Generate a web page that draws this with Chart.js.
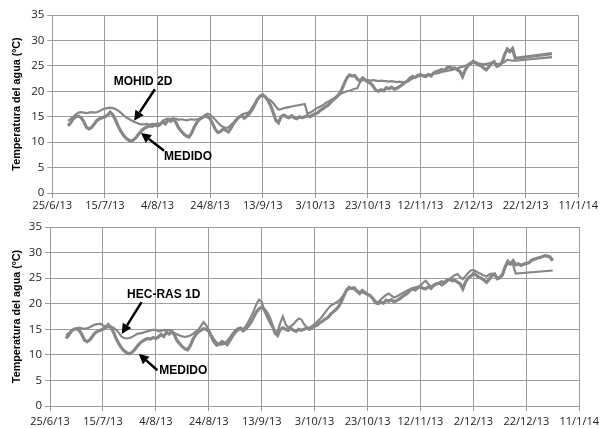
<!DOCTYPE html>
<html>
<head>
<meta charset="utf-8">
<script src="https://cdn.jsdelivr.net/npm/chart.js@4.4.1/dist/chart.umd.min.js"></script>
<style>
  html, body { margin: 0; padding: 0; background: #ffffff; }
  body { width: 603px; height: 428px; position: relative; overflow: hidden; }
  canvas { position: absolute; left: 0; }
  #sup { top: 0; }
  #inf { top: 213px; }
</style>
</head>
<body>
<canvas id="sup" width="603" height="213"></canvas>
<canvas id="inf" width="603" height="215"></canvas>
<script>
// ---- Eje X: días desde 25/6/13, etiquetas cada 20 días ----
const etiquetasX = ['25/6/13','15/7/13','4/8/13','24/8/13','13/9/13','3/10/13','23/10/13','12/11/13','2/12/13','22/12/13','11/1/14'];
const diaInicio = 6;   // primer dato: 1/7/13

// ---- Temperatura medida (ºC), un valor por día desde diaInicio ----
const medido = [
  13.2, 13.8, 14.6, 15.0, 15.1, 14.8, 14.0, 12.9, 12.6, 12.9,
  13.6, 14.3, 14.6, 14.8, 15.0, 15.3, 15.9, 15.4, 14.4, 13.2,
  12.2, 11.4, 10.8, 10.4, 10.2, 10.5, 11.0, 11.7, 12.3, 12.7,
  13.0, 13.2, 13.1, 13.4, 13.2, 13.5, 14.0, 13.6, 14.4, 14.1,
  14.6, 13.9, 12.8, 12.2, 11.6, 11.2, 11.0, 11.8, 13.0, 13.9,
  14.5, 14.8, 15.1, 15.0, 14.6, 13.6, 12.5, 11.9, 12.1, 12.6,
  12.3, 12.0, 12.8, 13.7, 14.4, 14.9, 15.2, 14.7, 15.1, 15.7,
  16.4, 17.4, 18.4, 19.0, 19.3, 18.9, 18.2, 17.2, 15.8, 14.3,
  13.8, 15.0, 15.3, 15.0, 14.8, 15.2, 14.8, 14.6, 15.0, 14.8,
  15.0, 15.2, 15.0, 15.3, 15.6, 15.8, 16.3, 16.6, 17.0, 17.3,
  17.9, 18.4, 18.8, 19.4, 20.3, 21.5, 22.6, 23.2, 23.0, 23.1,
  22.4, 22.0, 22.6, 22.2, 21.8, 21.6, 21.0, 20.2, 20.0, 20.3,
  20.1, 20.7, 20.5, 20.8, 20.4, 20.6, 20.9, 21.3, 21.7, 22.0,
  22.6, 22.9, 22.7, 23.1, 23.3, 23.0, 22.9, 23.3, 23.0, 23.6,
  23.9, 24.0, 24.3, 24.1, 24.6, 24.8, 24.5, 24.6, 24.2, 23.9,
  22.9, 24.2, 25.0, 25.4, 25.9, 25.6, 25.2, 25.0, 24.6, 24.2,
  24.8, 25.5, 25.8, 24.9, 25.1, 25.7, 27.2, 28.3, 27.8, 28.4,
  27.6, 27.8, 27.5, 27.7, 27.9, 28.0, 28.5, 28.7, 28.9, 29.0,
  29.2, 29.4, 29.3, 29.1, 28.4
];
// en el gráfico superior la serie medida termina el día 175 y sigue con estos puntos
const diasColaSup = [176, 190];
const medidoColaSup = [26.5, 27.4];

// ---- Modelo MOHID 2D (ºC), un valor por día desde diaInicio ----
const mohid2D = [
  14.2, 14.6, 15.0, 15.5, 15.8, 15.9, 15.8, 15.7, 15.8, 15.9,
  15.8, 15.9, 16.1, 16.4, 16.6, 16.7, 16.8, 16.7, 16.5, 16.2,
  15.8, 15.3, 14.9, 14.6, 14.3, 14.0, 13.8, 13.6, 13.5, 13.5,
  13.6, 13.4, 13.6, 13.5, 13.7, 13.6, 14.2, 14.5, 14.6, 14.6,
  14.5, 14.6, 14.4, 14.5, 14.4, 14.3, 14.4, 14.5, 14.4, 14.5,
  14.6, 14.8, 15.3, 15.6, 15.4, 14.9, 14.4, 13.8, 13.3, 13.0,
  12.8, 12.9, 13.4, 13.9, 14.5, 15.0, 15.4, 15.6, 15.7, 16.0,
  16.8, 17.6, 18.5, 19.1, 19.2, 18.8, 18.5, 18.2, 17.7, 17.0,
  16.4, 16.5, 16.7, 16.8, 16.9, 17.0, 17.1, 17.2, 17.3, 17.4,
  17.5, 15.6, 15.8, 16.1, 16.5, 16.8, 17.0, 17.3, 17.7, 18.0,
  18.3, 18.6, 19.0, 19.3, 19.6, 19.8, 20.0, 20.1, 20.3, 20.5,
  20.6, 21.8, 22.3, 22.2, 22.2, 22.1, 22.2, 22.1, 22.0, 22.1,
  22.0, 22.0, 21.9, 22.0, 21.9, 21.8, 21.9, 21.8, 21.8, 21.9,
  22.2, 22.5, 22.7, 22.9, 23.0, 23.1, 23.2, 23.2, 23.3, 23.4,
  23.5, 23.6, 23.8, 23.9, 24.0, 24.1, 24.2, 24.4, 24.5, 24.7,
  24.8, 25.0, 25.3, 25.6, 25.8, 25.7, 25.5, 25.4, 25.3, 25.4,
  25.5, 25.6, 25.6, 25.4, 25.3, 25.5, 25.8, 26.2, 26.1, 26.0,
  26.0
];
const diaFinal = 190;
const mohidFinal = 26.7;

// ---- Modelo HEC-RAS 1D (ºC), un valor por día desde diaInicio ----
const hecRas1D = [
  13.8, 14.2, 14.6, 14.9, 15.1, 15.3, 15.2, 15.1, 15.2, 15.4,
  15.7, 15.9, 16.0, 16.1, 15.8, 15.6, 15.4, 15.5, 15.3, 14.9,
  14.3, 13.6, 13.3, 13.2, 13.3, 13.5, 13.8, 14.1, 14.2, 14.3,
  14.5, 14.6, 14.8, 14.9, 14.9, 14.6, 14.7, 14.9, 14.8, 14.9,
  14.7, 14.3, 14.0, 13.8, 13.6, 13.5, 13.6, 13.8, 14.1, 14.5,
  14.9, 15.6, 16.4, 15.8, 14.9, 13.8, 13.0, 12.4, 12.1, 12.0,
  12.2, 12.8, 13.4, 14.2, 14.8, 15.2, 15.3, 15.0, 15.6, 16.5,
  17.5, 18.6, 19.9, 20.8, 20.4, 18.6, 17.4, 16.4, 15.5, 14.6,
  14.5, 16.2, 17.5, 16.0, 15.3, 15.6, 16.0, 16.6, 17.1, 16.9,
  16.0, 15.4, 15.3, 15.6, 16.0, 16.5, 17.0, 17.6, 18.3, 19.0,
  19.6, 19.9, 20.2, 20.5, 21.0, 21.8, 22.5, 22.9, 23.0, 22.8,
  22.6, 22.3, 22.2, 22.0, 21.9, 21.6, 21.0, 20.5, 20.3, 20.8,
  21.3, 21.7, 22.0, 21.6, 21.2, 21.4, 21.7, 22.0, 22.3, 22.6,
  22.8, 23.0, 23.2, 23.3, 23.6, 24.1, 24.5, 23.8, 23.4, 23.5,
  23.8, 24.0, 23.6, 23.9, 24.3, 24.8, 25.2, 25.6, 25.8, 25.2,
  24.8, 25.4, 26.0, 26.5, 26.6, 26.3, 26.0, 25.8, 25.5, 25.3,
  25.7, 25.9, 25.6, 25.2, 25.0, 25.6, 27.2, 27.8, 27.9, 27.6,
  25.9
];
const hecRasFinal = 26.5;

// ---- Anotaciones (en unidades de datos: día, ºC) ----
const anotacionesSup = [
  { texto: 'MOHID 2D', x: 34.5, y: 21.8, desde: [39.0, 20.4], hasta: [31.1, 14.2] },
  { texto: 'MEDIDO',   x: 51.6, y: 7.1,  desde: [42.5, 8.3],  hasta: [33.7, 11.8] }
];
const anotacionesInf = [
  { texto: 'HEC-RAS 1D', x: 43.0, y: 21.7, desde: [34.6, 20.3], hasta: [27.1, 14.1] },
  { texto: 'MEDIDO',     x: 50.4, y: 7.0,  desde: [40.6, 7.0],  hasta: [33.5, 10.2] }
];

// ---- construcción ----
function puntos(valores, inicio, cantidad) {
  const n = cantidad === undefined ? valores.length : cantidad;
  const out = [];
  for (let i = 0; i < n; i++) out.push({ x: inicio + i, y: valores[i] });
  return out;
}

const gris = '#878787';
const rejilla = '#9c9c9c';

const pluginAnotaciones = {
  id: 'anotaciones',
  afterDatasetsDraw(chart, args, opts) {
    const { ctx, scales: { x, y } } = chart;
    ctx.save();
    ctx.fillStyle = '#000';
    ctx.strokeStyle = '#000';
    ctx.font = 'bold 12px "Liberation Sans", Arial, sans-serif';
    ctx.textAlign = 'center';
    ctx.textBaseline = 'middle';
    (opts.items || []).forEach(a => {
      ctx.fillText(a.texto, x.getPixelForValue(a.x), y.getPixelForValue(a.y));
      const x1 = x.getPixelForValue(a.desde[0]), y1 = y.getPixelForValue(a.desde[1]);
      const x2 = x.getPixelForValue(a.hasta[0]), y2 = y.getPixelForValue(a.hasta[1]);
      const ang = Math.atan2(y2 - y1, x2 - x1);
      const L = 10, W = 5;
      const bx = x2 - L * Math.cos(ang), by = y2 - L * Math.sin(ang);
      ctx.lineWidth = 2.5;
      ctx.beginPath();
      ctx.moveTo(x1, y1);
      ctx.lineTo(bx, by);
      ctx.stroke();
      ctx.beginPath();
      ctx.moveTo(x2, y2);
      ctx.lineTo(bx + W * Math.sin(ang), by - W * Math.cos(ang));
      ctx.lineTo(bx - W * Math.sin(ang), by + W * Math.cos(ang));
      ctx.closePath();
      ctx.fill();
    });
    ctx.restore();
  }
};

function crear(id, datasets, cfg) {
  return new Chart(document.getElementById(id), {
    type: 'line',
    data: { datasets },
    options: {
      responsive: false,
      animation: false,
      events: [],
      layout: { padding: { left: 0, right: cfg.right, top: cfg.top, bottom: 0 } },
      elements: { point: { radius: 0 }, line: { tension: 0 } },
      plugins: {
        legend: { display: false },
        tooltip: { enabled: false },
        anotaciones: { items: cfg.notas }
      },
      scales: {
        x: {
          type: 'linear',
          min: 0, max: 200,
          afterFit: s => { s.height = cfg.alturaX; },
          grid: { color: rejilla, lineWidth: 1, tickLength: 5, drawTicks: true },
          border: { color: rejilla, width: 1 },
          ticks: {
            stepSize: 20, autoSkip: false, maxRotation: 0, minRotation: 0,
            padding: cfg.padX,
            color: '#222',
            font: { family: '"Open Sans", "Liberation Sans", sans-serif', size: 11 },
            callback: v => etiquetasX[Math.round(v / 20)]
          }
        },
        y: {
          min: 0, max: 35,
          afterFit: s => { s.width = cfg.anchoY; },
          grid: { color: rejilla, lineWidth: 1, tickLength: 5 },
          border: { color: rejilla, width: 1 },
          title: {
            display: true,
            text: 'Temperatura del agua (ºC)',
            color: '#000',
            font: { family: '"Liberation Sans", Arial, sans-serif', size: 10.8, weight: 'bold' },
            padding: { top: 11, bottom: 0 }
          },
          ticks: {
            stepSize: 5, padding: 3,
            color: '#222',
            font: { family: '"Open Sans", "Liberation Sans", sans-serif', size: 11.5 }
          }
        }
      }
    },
    plugins: [pluginAnotaciones]
  });
}

// gráfico superior: MOHID 2D vs medido
const nSup = 175 - diaInicio + 1;
const medSup = puntos(medido, diaInicio, nSup).concat(diasColaSup.map((d, i) => ({ x: d, y: medidoColaSup[i] })));
const mohSup = puntos(mohid2D, diaInicio).concat([{ x: diaFinal, y: mohidFinal }]);
crear('sup', [
  { data: medSup, borderColor: gris, borderWidth: 3.2 },
  { data: mohSup, borderColor: gris, borderWidth: 2.2 }
], { right: 24.7, top: 15, alturaX: 20, anchoY: 52.3, padX: 1, notas: anotacionesSup });

// gráfico inferior: HEC-RAS 1D vs medido
const medInf = puntos(medido, diaInicio);
const hecInf = puntos(hecRas1D, diaInicio).concat([{ x: diaFinal, y: hecRasFinal }]);
crear('inf', [
  { data: medInf, borderColor: gris, borderWidth: 3.2 },
  { data: hecInf, borderColor: gris, borderWidth: 2.2 }
], { right: 21.3, top: 14, alturaX: 22, anchoY: 50, padX: 4, notas: anotacionesInf });
</script>
</body>
</html>
